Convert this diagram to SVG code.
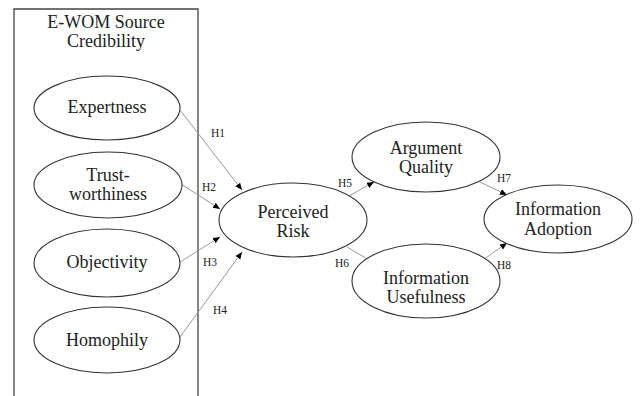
<svg xmlns="http://www.w3.org/2000/svg" width="640" height="396" viewBox="0 0 640 396">
<style>
.n{fill:#fff;stroke:#333;stroke-width:1.1}
.t{font-family:"Liberation Serif","Times New Roman",serif;font-size:18px;fill:#222;text-anchor:middle}
.h{font-family:"Liberation Serif","Times New Roman",serif;font-size:11.5px;fill:#222;text-anchor:middle}
.c{stroke:#999;stroke-width:1;fill:none;marker-end:url(#ah)}
</style>
<defs>
<marker id="ah" markerWidth="8" markerHeight="8" refX="7" refY="3.5" orient="auto" markerUnits="userSpaceOnUse">
<path d="M0,0.5 L7,3.5 L0,6.5 Z" fill="#000"/>
</marker>
</defs>
<rect width="640" height="396" fill="#fff"/>
<g id="source-box">
<path d="M14,396 V9 H198 V396" fill="none" stroke="#444" stroke-width="1.3"/>
<text class="t" x="106" y="28">E-WOM Source</text>
<text class="t" x="106" y="47">Credibility</text>
</g>
<g id="connectors">
<line class="c" x1="180" y1="110" x2="242" y2="190"/>
<line class="c" x1="181" y1="184" x2="220" y2="209"/>
<line class="c" x1="180" y1="262" x2="220" y2="237"/>
<line class="c" x1="180" y1="337" x2="242" y2="252"/>
<line class="c" x1="347" y1="197" x2="374" y2="182"/>
<line class="c" x1="347" y1="247" x2="374" y2="263"/>
<line class="c" x1="480" y1="182" x2="507" y2="195"/>
<line class="c" x1="480" y1="262" x2="507" y2="243"/>
<text class="h" x="218" y="137">H1</text>
<text class="h" x="209" y="191">H2</text>
<text class="h" x="210" y="266">H3</text>
<text class="h" x="220" y="314">H4</text>
<text class="h" x="345" y="187">H5</text>
<text class="h" x="342" y="267">H6</text>
<text class="h" x="504" y="182">H7</text>
<text class="h" x="504" y="269">H8</text>
</g>
<g id="expertness">
<ellipse class="n" cx="107" cy="108" rx="73" ry="32"/>
<text class="t" x="107" y="113">Expertness</text>
</g>
<g id="trustworthiness">
<ellipse class="n" cx="108" cy="185" rx="74" ry="33"/>
<text class="t" x="108" y="181">Trust-</text>
<text class="t" x="108" y="200">worthiness</text>
</g>
<g id="objectivity">
<ellipse class="n" cx="107" cy="263" rx="73" ry="34"/>
<text class="t" x="107" y="268">Objectivity</text>
</g>
<g id="homophily">
<ellipse class="n" cx="107" cy="340" rx="73" ry="33"/>
<text class="t" x="107" y="346">Homophily</text>
</g>
<g id="perceived-risk">
<ellipse class="n" cx="293" cy="220" rx="74" ry="37"/>
<text class="t" x="293" y="218">Perceived</text>
<text class="t" x="293" y="237">Risk</text>
</g>
<g id="argument-quality">
<ellipse class="n" cx="426" cy="157" rx="74" ry="35"/>
<text class="t" x="426" y="154">Argument</text>
<text class="t" x="426" y="173">Quality</text>
</g>
<g id="information-usefulness">
<ellipse class="n" cx="426" cy="281" rx="74" ry="37"/>
<text class="t" x="426" y="284">Information</text>
<text class="t" x="426" y="303">Usefulness</text>
</g>
<g id="information-adoption">
<ellipse class="n" cx="558" cy="219" rx="74" ry="34"/>
<text class="t" x="558" y="215">Information</text>
<text class="t" x="558" y="235">Adoption</text>
</g>
</svg>
